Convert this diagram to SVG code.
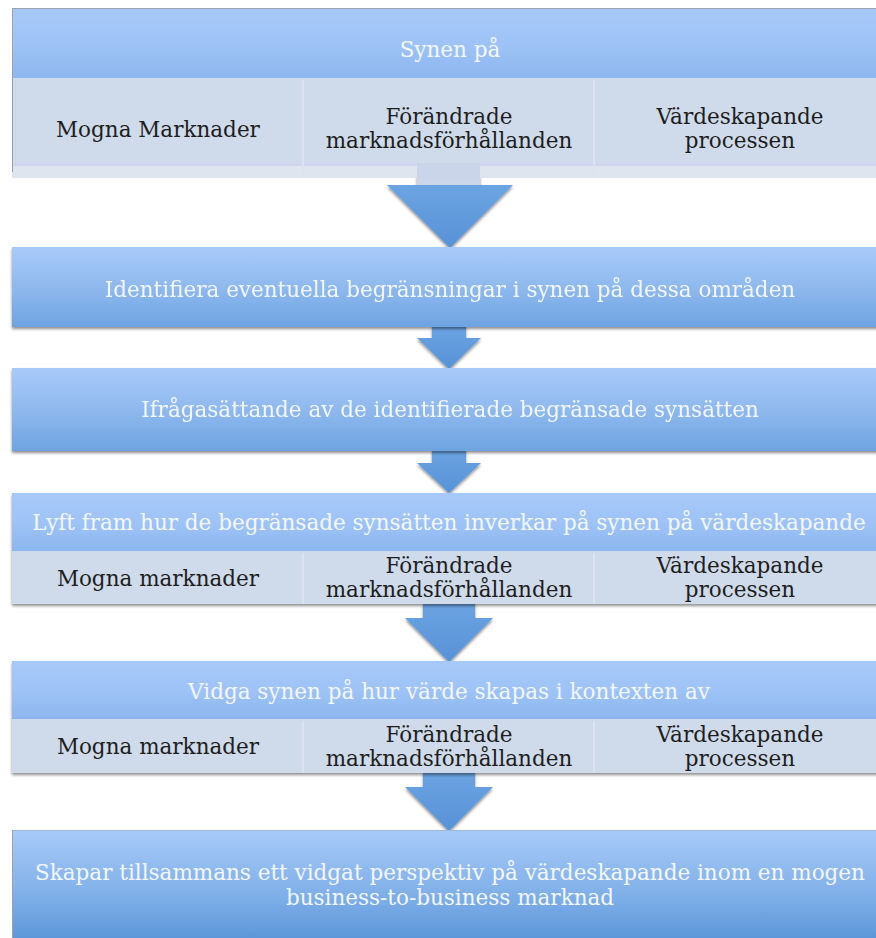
<svg xmlns="http://www.w3.org/2000/svg" width="876" height="938" viewBox="0 0 876 938">
<defs>
<linearGradient id="gHead" x1="0" y1="0" x2="0" y2="1">
<stop offset="0" stop-color="#a7c9f9"/>
<stop offset="0.5" stop-color="#9fc3f6"/>
<stop offset="1" stop-color="#8cb7ef"/>
</linearGradient>
<linearGradient id="gBox" x1="0" y1="0" x2="0" y2="1">
<stop offset="0" stop-color="#a8caf9"/>
<stop offset="0.5" stop-color="#8fb9ee"/>
<stop offset="1" stop-color="#6ea3e0"/>
</linearGradient>
<linearGradient id="gBig" x1="0" y1="0" x2="0" y2="1">
<stop offset="0" stop-color="#a8caf9"/>
<stop offset="0.6" stop-color="#7fafe8"/>
<stop offset="1" stop-color="#5b96d8"/>
</linearGradient>
<linearGradient id="gArrow" x1="0" y1="0" x2="0" y2="1">
<stop offset="0" stop-color="#6ca4e2"/>
<stop offset="1" stop-color="#5792d7"/>
</linearGradient>
<filter id="sh" x="-5%" y="-20%" width="110%" height="150%">
<feGaussianBlur in="SourceAlpha" stdDeviation="1.6"/>
<feOffset dx="0" dy="2" result="b"/>
<feComponentTransfer><feFuncA type="linear" slope="0.45"/></feComponentTransfer>
<feMerge><feMergeNode/><feMergeNode in="SourceGraphic"/></feMerge>
</filter>
</defs>
<style>
text{font-family:"DejaVu Serif","Liberation Serif",serif;font-size:21.5px;text-anchor:middle}
.w{fill:#f3f7fd}
.d{fill:#1e1e1e}
.sub{fill:#cfdbea}
.div{stroke:#dbe3ee;stroke-width:2}
.edge{stroke:#9aa3ad;stroke-width:1}
</style>
<rect width="876" height="938" fill="#ffffff"/>

<g id="connectors">
<g filter="url(#sh)">
<rect x="417" y="172" width="63" height="14" fill="#cbd6ea"/>
<polygon points="387,185 513,185 450,248" fill="url(#gArrow)"/>
</g>
<g filter="url(#sh)">
<polygon points="432,325 466,325 466,338 481,338 449,369 417,338 432,338" fill="url(#gArrow)"/>
</g>
<g filter="url(#sh)">
<polygon points="432,449 466,449 466,463 481,463 449,493 417,463 432,463" fill="url(#gArrow)"/>
</g>
<g filter="url(#sh)">
<polygon points="423,602 475,602 475,618 493,618 449,662 405,618 423,618" fill="url(#gArrow)"/>
</g>
<g filter="url(#sh)">
<polygon points="423,771 475,771 475,787 493,787 449,831 405,787 423,787" fill="url(#gArrow)"/>
</g>
</g>

<g id="node1">
<rect x="12" y="8" width="876" height="70" fill="url(#gHead)"/>
<line x1="12" y1="8.5" x2="876" y2="8.5" class="edge"/>
<rect x="12" y="78" width="876" height="86" class="sub"/>
<rect x="12" y="163" width="876" height="3" fill="#cfd6ee"/>
<rect x="12" y="166" width="876" height="12" fill="#dee5ef"/>
<rect x="417" y="163" width="63" height="15" fill="#cad5ea"/>
<line x1="303" y1="80" x2="303" y2="178" class="div"/>
<line x1="594" y1="80" x2="594" y2="178" class="div"/>
<line x1="12.5" y1="8" x2="12.5" y2="172" class="edge"/>
<text x="450" y="57" class="w">Synen på</text>
<text x="158" y="137" class="d">Mogna Marknader</text>
<text x="449" y="124" class="d">Förändrade</text>
<text x="449" y="148" class="d">marknadsförhållanden</text>
<text x="740" y="124" class="d">Värdeskapande</text>
<text x="740" y="148" class="d">processen</text>
</g>

<g id="node2" filter="url(#sh)">
<rect x="12" y="247" width="876" height="80" fill="url(#gBox)"/>
<text x="450" y="297" class="w">Identifiera eventuella begränsningar i synen på dessa områden</text>
</g>

<g id="node3" filter="url(#sh)">
<rect x="12" y="368" width="876" height="83" fill="url(#gBox)"/>
<text x="450" y="417" class="w">Ifrågasättande av de identifierade begränsade synsätten</text>
</g>

<g id="node4">
<g filter="url(#sh)">
<rect x="12" y="493" width="876" height="58" fill="url(#gHead)"/>
<rect x="12" y="551" width="876" height="53" class="sub"/>
</g>
<line x1="303" y1="553" x2="303" y2="604" class="div"/>
<line x1="594" y1="553" x2="594" y2="604" class="div"/>
<text x="449" y="530" class="w">Lyft fram hur de begränsade synsätten inverkar på synen på värdeskapande</text>
<text x="158" y="586" class="d">Mogna marknader</text>
<text x="449" y="573" class="d">Förändrade</text>
<text x="449" y="597" class="d">marknadsförhållanden</text>
<text x="740" y="573" class="d">Värdeskapande</text>
<text x="740" y="597" class="d">processen</text>
</g>

<g id="node5">
<g filter="url(#sh)">
<rect x="12" y="661" width="876" height="58" fill="url(#gHead)"/>
<rect x="12" y="719" width="876" height="54" class="sub"/>
</g>
<line x1="303" y1="721" x2="303" y2="773" class="div"/>
<line x1="594" y1="721" x2="594" y2="773" class="div"/>
<text x="449" y="699" class="w">Vidga synen på hur värde skapas i kontexten av</text>
<text x="158" y="754" class="d">Mogna marknader</text>
<text x="449" y="742" class="d">Förändrade</text>
<text x="449" y="766" class="d">marknadsförhållanden</text>
<text x="740" y="742" class="d">Värdeskapande</text>
<text x="740" y="766" class="d">processen</text>
</g>

<g id="node6">
<rect x="12" y="830" width="876" height="110" fill="url(#gBig)"/>
<line x1="12" y1="830.5" x2="876" y2="830.5" stroke="#9fb8da" stroke-width="1"/>
<line x1="12.5" y1="830" x2="12.5" y2="938" class="edge"/>
<text x="450" y="880" class="w">Skapar tillsammans ett vidgat perspektiv på värdeskapande inom en mogen</text>
<text x="450" y="905" class="w">business-to-business marknad</text>
</g>
</svg>
